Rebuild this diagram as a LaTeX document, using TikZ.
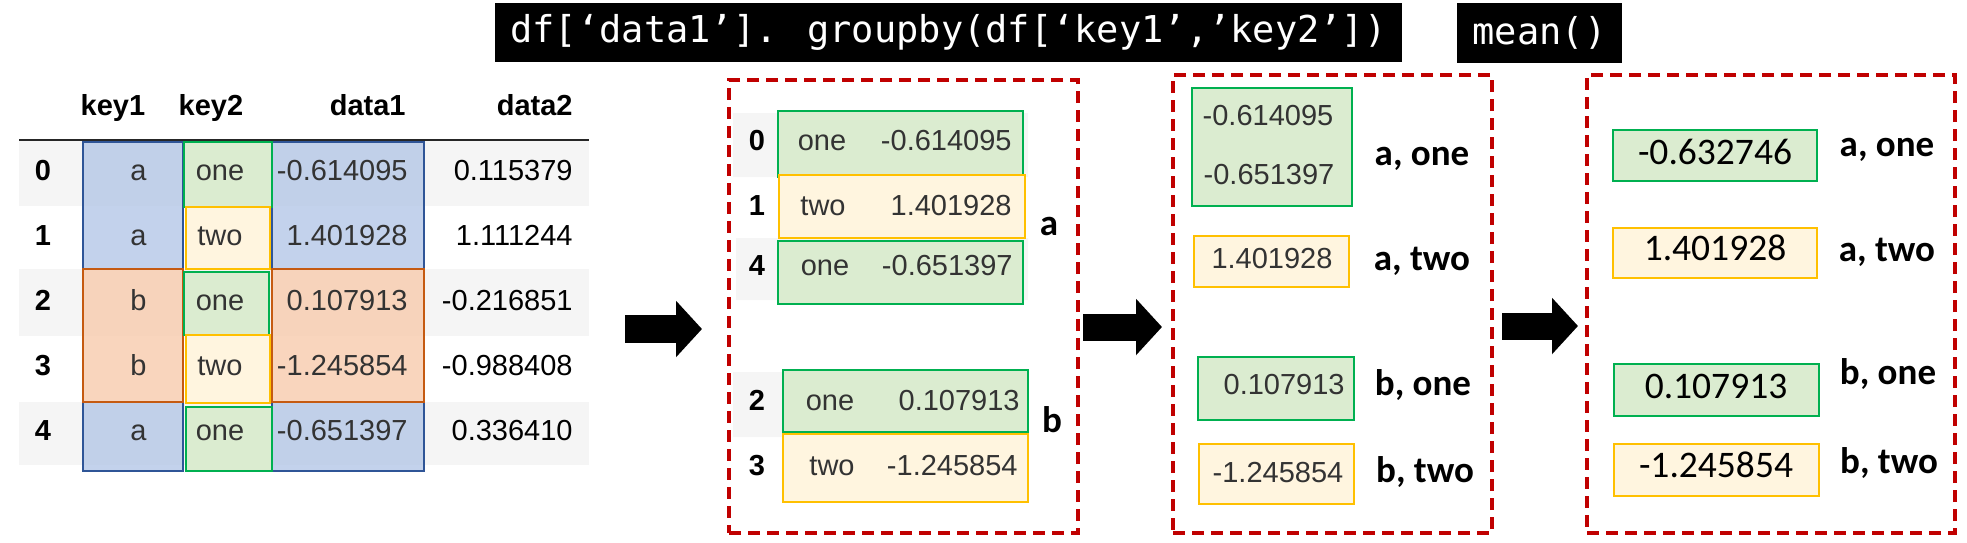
\documentclass[tikz,border=0pt]{standalone}
\usepackage{fontspec}
\setmainfont{Liberation Sans}
\newfontfamily\calfont{Carlito}
\newfontfamily\codefont{DejaVu Sans Mono}
\usetikzlibrary{arrows.meta,calc}

\definecolor{stripe}{HTML}{F5F5F5}
\definecolor{bluefill}{HTML}{B4C7E7}
\definecolor{blueline}{HTML}{2F5597}
\definecolor{orangefill}{HTML}{F8CBAD}
\definecolor{orangeline}{HTML}{C55A11}
\definecolor{greenfill}{HTML}{DBECD0}
\definecolor{greenline}{HTML}{00B050}
\definecolor{yellowfill}{HTML}{FFF5DF}
\definecolor{yellowline}{HTML}{FFC000}
\definecolor{dashred}{HTML}{C00000}

\begin{document}
\begin{tikzpicture}[x=0.5pt,y=-0.5pt,
  txt/.style={inner sep=0pt, text height=.72em, text depth=0pt},
  arial/.style={txt, font=\fontsize{14.5}{17}\selectfont},
  arialb/.style={txt, font=\bfseries\fontsize{14.5}{17}\selectfont},
  calval/.style={txt, font=\calfont\fontsize{18.75}{22}\selectfont},
  callab/.style={txt, font=\calfont\bfseries\fontsize{18.5}{22}\selectfont},
  greencell/.style={draw=greenline, fill=greenfill, line width=1pt},
  yellowcell/.style={draw=yellowline, fill=yellowfill, line width=1pt},
  bluecell/.style={draw=blueline, fill=bluefill, fill opacity=.8, line width=1pt},
  orangecell/.style={draw=orangeline, fill=orangefill, fill opacity=.8, line width=1pt},
  grpbox/.style={draw=dashred, line width=2pt, dash pattern=on 6pt off 3.5pt, inner sep=0pt, outer sep=0pt},
  codebox/.style={fill=black, text=white, inner sep=0pt, font=\codefont\fontsize{18.5}{22}\selectfont},
  bigarrow/.style={line width=14pt, -{Triangle[length=13pt,width=27.5pt]}}]

\useasboundingbox (0,0) rectangle (1967,542);

% code bar
\node[codebox, minimum width=453.5pt, minimum height=29.5pt] (code) at (948.5,32.5) {df[‘data1’]. groupby(df[‘key1’,’key2’])};
\node[codebox, minimum width=82.5pt, minimum height=30pt] (meanbox) at (1539.5,33) {mean()};

% data frame
\foreach \y/\h in {140/206,269/336,402/465}
  \fill[stripe] (19,\y) rectangle (589,\h);
\draw[line width=1pt, black!85] (19,140) -- (589,140);
\foreach \x/\w in {83/183,272/424} {
  \draw[bluecell] (\x,142) rectangle (\w,269);
  \draw[bluecell] (\x,402) rectangle (\w,471);
  \draw[orangecell] (\x,269) rectangle (\w,402);
}
\draw[greencell] (184,142) rectangle (272,207);
\draw[yellowcell] (186,207) rectangle (270,269);
\draw[greencell] (184,272) rectangle (269,335);
\draw[yellowcell] (186,335) rectangle (270,403);
\draw[greencell] (186,407) rectangle (272,471);

\node[arialb] (h-key1) at (113,108) {key1};
\node[arialb] (h-key2) at (211,108) {key2};
\node[arialb, anchor=east] (h-data1) at (406,108) {data1};
\node[arialb, anchor=east] (h-data2) at (573,108) {data2};
\foreach \i/\ka/\kb/\da/\db in {0/a/one/-0.614095/0.115379, 1/a/two/1.401928/1.111244,
    2/b/one/0.107913/-0.216851, 3/b/two/-1.245854/-0.988408, 4/a/one/-0.651397/0.336410} {
  \node[arialb] (t-i\i) at (43,{173+65*\i}) {\i};
  \node[arial, anchor=east, text=black!80] (t-a\i) at (147,{173+65*\i}) {\ka};
  \node[arial, text=black!80] (t-b\i) at (220,{173+65*\i}) {\kb};
  \node[arial, anchor=east, text=black!80] (t-c\i) at (408,{173+65*\i}) {\da};
  \node[arial, anchor=east] (t-d\i) at (573,{173+65*\i}) {\db};
}
\coordinate (tabend) at (589,329);

% groups by key1
\node[grpbox, minimum width=174.5pt, minimum height=226.5pt] (grp1) at (903.5,306.5) {};
\fill[stripe] (733,113) rectangle (1028,177) (736,238) rectangle (1028,300) (733,372) rectangle (1028,437);
\draw[greencell] (778,111) rectangle (1023,177);
\draw[yellowcell] (779,175) rectangle (1025,238);
\draw[greencell] (778,241) rectangle (1023,304);
\draw[greencell] (783,370) rectangle (1028,432);
\draw[yellowcell] (783,434) rectangle (1028,502);
\foreach \i/\k/\v/\y/\kx/\vx in {0/one/-0.614095/143/822/1012, 1/two/1.401928/208/823/1012,
    4/one/-0.651397/268/825/1013, 2/one/0.107913/403/830/1020, 3/two/-1.245854/468/832/1018} {
  \node[arialb] (g1-i\i) at (757,\y) {\i};
  \node[arial, text=black!80] (g1-k\i) at (\kx,\y) {\k};
  \node[arial, anchor=east, text=black!80] (g1-v\i) at (\vx,\y) {\v};
}
\node[callab] (g1-a) at (1049,228) {a};
\node[callab] (g1-b) at (1052,425) {b};

% groups by key1, key2
\node[grpbox, minimum width=159.5pt, minimum height=229pt] (grp2) at (1332.5,304) {};
\draw[greencell] (1192,88) rectangle (1352,206);
\draw[yellowcell] (1194,236) rectangle (1349,287);
\draw[greencell] (1198,357) rectangle (1354,420);
\draw[yellowcell] (1199,444) rectangle (1354,504);
\node[arial, text=black!80] (g2-v1) at (1268,118) {-0.614095};
\node[arial, text=black!80] (g2-v2) at (1269,177) {-0.651397};
\node[arial, text=black!80] (g2-v3) at (1272,261) {1.401928};
\node[arial, text=black!80, anchor=east] (g2-v4) at (1345,387) {0.107913};
\node[arial, text=black!80] (g2-v5) at (1278,475) {-1.245854};
\node[callab] (g2-l1) at (1422,158) {a, one};
\node[callab] (g2-l2) at (1422,263) {a, two};
\node[callab] (g2-l3) at (1423,388) {b, one};
\node[callab] (g2-l4) at (1425,475) {b, two};

% means
\node[grpbox, minimum width=184pt, minimum height=229pt] (grp3) at (1771,304) {};
\draw[greencell] (1613,130) rectangle (1817,181);
\draw[yellowcell] (1613,228) rectangle (1817,278);
\draw[greencell] (1614,364) rectangle (1819,416);
\draw[yellowcell] (1614,444) rectangle (1819,496);
\node[calval] (g3-v1) at (1715,157) {-0.632746};
\node[calval] (g3-v2) at (1715,253) {1.401928};
\node[calval] (g3-v3) at (1716,391) {0.107913};
\node[calval] (g3-v4) at (1716,470) {-1.245854};
\node[callab] (g3-l1) at (1887,149) {a, one};
\node[callab] (g3-l2) at (1887,254) {a, two};
\node[callab] (g3-l3) at (1888,377) {b, one};
\node[callab] (g3-l4) at (1889,466) {b, two};

% arrows
\draw[bigarrow, shorten <=18pt, shorten >=13.5pt] (tabend) -- (tabend -| grp1.west);
\coordinate (a2) at ($(grp1.east)+(0,20.5)$);
\draw[bigarrow, line width=13.5pt, shorten <=2.5pt, shorten >=5.5pt] (a2) -- (a2 -| grp2.west);
\coordinate (a3) at ($(grp2.east)+(0,22)$);
\draw[bigarrow, line width=13.5pt, shorten <=5pt, shorten >=4.5pt] (a3) -- (a3 -| grp3.west);

\end{tikzpicture}
\end{document}
